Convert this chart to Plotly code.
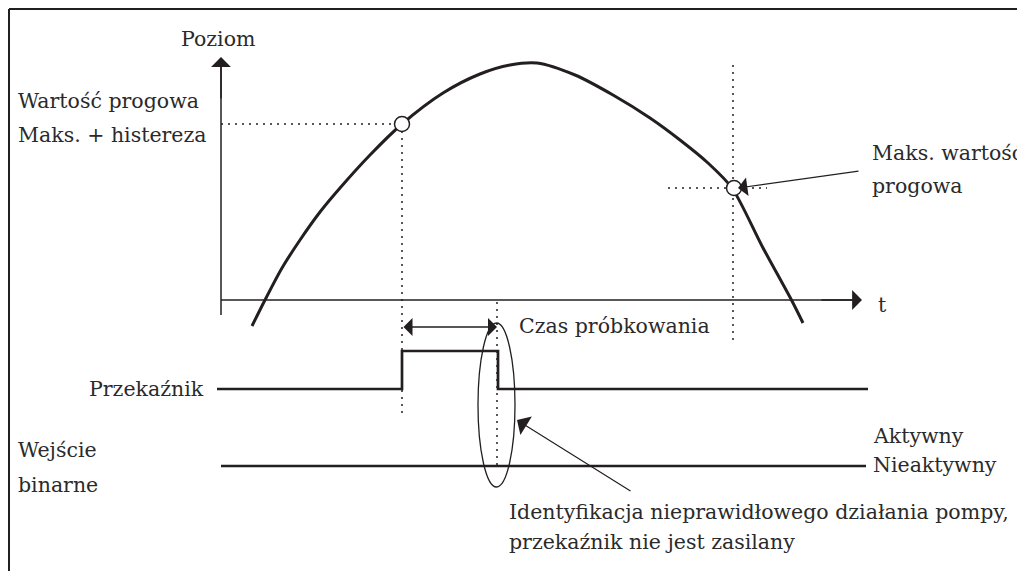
import plotly.graph_objects as go

# ---- data (diagram coordinates: x = time position, y = level position, screen units) ----
curve_t = [252, 265, 282, 300, 320, 340, 370, 402, 443, 480, 510, 537, 575, 613, 650,
           680, 708, 732, 762, 792, 803]
curve_level = [326, 300, 268, 240, 212, 188, 155, 124, 93, 74, 65, 63, 75, 95, 118,
               140, 163, 188, 246, 301, 323]

threshold_t = [402, 734]
threshold_level = [124, 188]

relay_t = [217, 402, 402, 498, 498, 868]
relay_level = [389, 389, 351, 351, 389, 389]

binary_t = [221, 866]
binary_level = [466, 466]

hyst_guide_t = [221, 402]
hyst_guide_level = [124, 124]
max_guide_t = [668, 767]
max_guide_level = [188, 188]
vguide1_t = [402, 402]
vguide1_level = [124, 418]
vguide2_t = [497, 497]
vguide2_level = [302, 467]
vguide3_t = [733, 733]
vguide3_level = [65, 343]

INK = "#231f20"
FONT = dict(family="DejaVu Serif", size=20.5, color="#2a2a2a")

# the page body has an 8px margin: shift the visible range so diagram units equal page pixels
OFF = 8
W, H = 1025, 571

fig = go.Figure()

# guides (dotted)
for gx, gy in [(hyst_guide_t, hyst_guide_level), (max_guide_t, max_guide_level),
               (vguide1_t, vguide1_level), (vguide2_t, vguide2_level), (vguide3_t, vguide3_level)]:
    fig.add_trace(go.Scatter(x=gx, y=gy, mode="lines",
                             line=dict(color=INK, width=1.5, dash="2px,5px"),
                             hoverinfo="skip", showlegend=False))

# level curve
fig.add_trace(go.Scatter(x=curve_t, y=curve_level, mode="lines",
                         line=dict(color=INK, width=3, shape="spline", smoothing=0.8),
                         hoverinfo="skip", showlegend=False))

# relay and binary input
fig.add_trace(go.Scatter(x=relay_t, y=relay_level, mode="lines",
                         line=dict(color=INK, width=2.7), hoverinfo="skip", showlegend=False))
fig.add_trace(go.Scatter(x=binary_t, y=binary_level, mode="lines",
                         line=dict(color=INK, width=2.7), hoverinfo="skip", showlegend=False))

# threshold markers
fig.add_trace(go.Scatter(x=threshold_t, y=threshold_level, mode="markers",
                         marker=dict(symbol="circle", size=15, color="white",
                                     line=dict(color=INK, width=1.5)),
                         hoverinfo="skip", showlegend=False))

shapes = [
    # frame
    dict(type="line", xref="x", yref="y", x0=9, y0=9, x1=W, y1=9, line=dict(color=INK, width=2)),
    dict(type="line", xref="x", yref="y", x0=9, y0=9, x1=9, y1=H, line=dict(color=INK, width=2)),
    # axes lines
    dict(type="line", xref="x", yref="y", x0=221, y0=315, x1=221, y1=66, line=dict(color=INK, width=1.5)),
    dict(type="line", xref="x", yref="y", x0=221, y0=300, x1=852, y1=300, line=dict(color=INK, width=1.5)),
    # ellipse
    dict(type="circle", xref="x", yref="y", x0=478, y0=323, x1=515, y1=487,
         line=dict(color=INK, width=1.3)),
]

annotations = []

def arrow(x, y, ax, ay, width=1.5, size=2.0, side="end", head=1):
    annotations.append(dict(x=x, y=y, ax=ax, ay=ay, xref="x", yref="y", axref="x", ayref="y",
                            text="", showarrow=True, arrowhead=head, startarrowhead=head,
                            arrowsize=size, startarrowsize=size, arrowwidth=width,
                            arrowcolor=INK, arrowside=side, standoff=0, startstandoff=0))

# axis arrowheads
arrow(221, 57, 221, 100, size=2.2)
arrow(862, 300, 820, 300, size=2.2)
# sampling time double arrow
arrow(497, 327, 402, 327, width=1.5, size=2.0, side="end+start")
# pointer arrows
arrow(738, 188, 860, 171, width=1.2, size=2.6)
arrow(517, 420, 632, 492, width=1.2, size=3.0)

def label(x, y, text, anchor="left"):
    annotations.append(dict(x=x, y=y, xref="x", yref="y", text=text, showarrow=False,
                            xanchor=anchor, yanchor="middle", font=FONT))

label(218, 39, "Poziom", "center")
label(16, 101, "Wartość progowa")
label(16, 135, "Maks. + histereza")
label(870, 153, "Maks. wartość")
label(870, 186, "progowa")
label(876, 305, "t")
label(517, 326, "Czas próbkowania")
label(206, 389, "Przekaźnik", "right")
label(16, 450, "Wejście")
label(16, 485, "binarne")
label(871, 436, "Aktywny")
label(871, 465, "Nieaktywny")
label(507, 512, "Identyfikacja nieprawidłowego działania pompy,")
label(507, 542, "przekaźnik nie jest zasilany")

fig.update_layout(
    width=W - OFF, height=H - OFF, autosize=False,
    margin=dict(l=0, r=0, t=0, b=0),
    paper_bgcolor="white", plot_bgcolor="white",
    xaxis=dict(range=[OFF, W], visible=False, fixedrange=True),
    yaxis=dict(range=[H, OFF], visible=False, fixedrange=True),
    shapes=shapes, annotations=annotations, showlegend=False,
)

fig.write_html("out.html", config={"displayModeBar": False})
